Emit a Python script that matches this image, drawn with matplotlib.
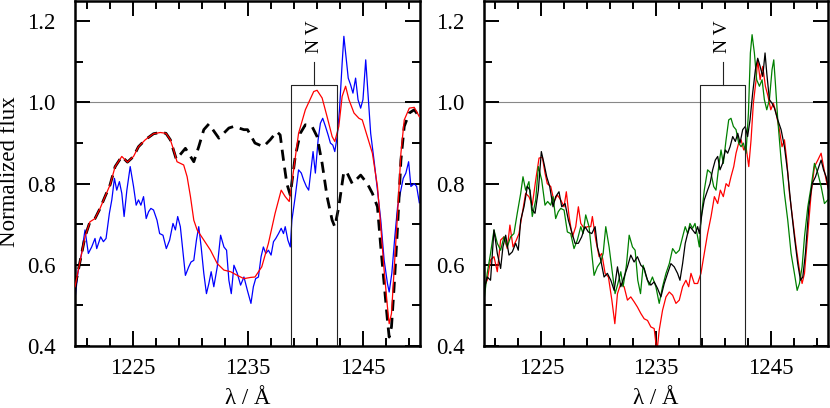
import matplotlib
matplotlib.use("Agg")
import matplotlib.pyplot as plt
from matplotlib.ticker import FixedLocator

plt.rcParams['font.family'] = 'Liberation Serif'
plt.rcParams['font.serif'] = ['Liberation Serif']
plt.rcParams['mathtext.fontset'] = 'stix'

# ---------------- Left panel data ----------------
model_wl = [1220.00, 1220.43, 1220.87, 1221.30, 1221.74, 1222.18, 1222.61, 1223.05, 1223.49, 1224.07,
            1224.56, 1225.09, 1225.52, 1226.11, 1226.83, 1227.42, 1227.91, 1228.29, 1228.58, 1228.87,
            1229.45, 1229.75, 1230.04, 1230.33, 1230.62, 1231.20, 1231.78, 1232.37, 1232.95, 1233.53,
            1234.11, 1234.69, 1235.28, 1235.65, 1236.24, 1236.82, 1237.40, 1237.93, 1238.28, 1238.63,
            1239.01, 1239.44, 1240.03, 1240.76, 1241.05, 1241.49, 1241.92, 1242.36, 1242.59, 1242.94,
            1243.23, 1243.53, 1243.82, 1244.26, 1244.69, 1244.98, 1245.42, 1245.86, 1246.30, 1246.59,
            1246.88, 1247.17, 1247.32, 1247.52, 1247.75, 1248.05, 1248.34, 1248.63, 1249.07, 1249.50,
            1249.94]
model_flux = [0.546, 0.607, 0.669, 0.706, 0.714, 0.739, 0.768, 0.797, 0.842, 0.867,
              0.853, 0.867, 0.891, 0.908, 0.923, 0.926, 0.924, 0.908, 0.883, 0.854,
              0.846, 0.817, 0.768, 0.710, 0.686, 0.661, 0.636, 0.603, 0.587, 0.583,
              0.574, 0.566, 0.569, 0.570, 0.595, 0.653, 0.727, 0.784, 0.768, 0.756,
              0.834, 0.924, 0.982, 1.027, 1.030, 1.011, 0.965, 0.916, 0.904, 0.941,
              1.015, 1.040, 1.007, 0.974, 0.961, 0.957, 0.916, 0.875, 0.793, 0.694,
              0.587, 0.496, 0.455, 0.480, 0.587, 0.727, 0.875, 0.957, 0.986, 0.988,
              0.965]

nomod_wl = [1220.00, 1220.43, 1220.87, 1221.30, 1221.74, 1222.18, 1222.61, 1223.05, 1223.49, 1224.07,
            1224.56, 1225.09, 1225.52, 1226.11, 1226.83, 1227.42, 1227.91, 1228.29, 1228.81, 1229.60,
            1230.33, 1230.76, 1231.20, 1231.64, 1232.51, 1233.38, 1233.82, 1234.69, 1235.00, 1235.65,
            1236.38, 1236.97, 1237.55, 1237.84, 1238.13, 1238.42, 1238.72, 1239.15, 1239.59, 1240.03,
            1240.61, 1241.05, 1241.49, 1241.92, 1242.36, 1242.59, 1242.94, 1243.38, 1243.67, 1244.11,
            1244.84, 1245.42, 1245.86, 1246.30, 1246.59, 1246.88, 1247.17, 1247.32, 1247.52, 1247.75,
            1248.05, 1248.34, 1248.63, 1249.07, 1249.50, 1249.94]
nomod_flux = [0.546, 0.607, 0.669, 0.706, 0.714, 0.739, 0.768, 0.797, 0.842, 0.867,
              0.853, 0.867, 0.891, 0.908, 0.923, 0.926, 0.924, 0.908, 0.860, 0.887,
              0.854, 0.891, 0.933, 0.947, 0.912, 0.937, 0.941, 0.933, 0.933, 0.900,
              0.891, 0.908, 0.928, 0.920, 0.858, 0.800, 0.772, 0.867, 0.924, 0.945,
              0.941, 0.916, 0.850, 0.768, 0.710, 0.694, 0.743, 0.830, 0.826, 0.800,
              0.821, 0.800, 0.776, 0.743, 0.644, 0.554, 0.463, 0.422, 0.447, 0.546,
              0.694, 0.858, 0.941, 0.974, 0.982, 0.965]

obs_wl = [1219.99, 1220.28, 1220.57, 1220.87, 1221.16, 1221.45, 1221.74, 1221.89, 1222.23, 1222.47,
          1222.70, 1222.99, 1223.20, 1223.43, 1223.63, 1223.86, 1224.07, 1224.27, 1224.51, 1224.80,
          1225.09, 1225.32, 1225.52, 1225.73, 1225.96, 1226.19, 1226.40, 1226.60, 1226.83, 1227.13,
          1227.36, 1227.65, 1227.94, 1228.23, 1228.52, 1228.73, 1228.93, 1229.16, 1229.40, 1229.60,
          1229.89, 1230.09, 1230.33, 1230.56, 1230.76, 1230.97, 1231.20, 1231.43, 1231.64, 1231.84,
          1232.07, 1232.37, 1232.66, 1232.95, 1233.18, 1233.38, 1233.59, 1233.82, 1234.11, 1234.40,
          1234.69, 1234.99, 1235.30, 1235.51, 1235.71, 1235.95, 1236.18, 1236.38, 1236.59, 1236.82,
          1237.05, 1237.26, 1237.46, 1237.70, 1237.93, 1238.13, 1238.28, 1238.51, 1238.72, 1238.86,
          1239.15, 1239.44, 1239.68, 1239.88, 1240.12, 1240.32, 1240.55, 1240.70, 1240.90, 1241.14,
          1241.34, 1241.54, 1241.78, 1242.01, 1242.21, 1242.42, 1242.59, 1242.80, 1243.00, 1243.23,
          1243.38, 1243.53, 1243.76, 1243.96, 1244.17, 1244.40, 1244.61, 1244.84, 1245.04, 1245.28,
          1245.51, 1245.71, 1246.00, 1246.30, 1246.59, 1246.88, 1247.17, 1247.32, 1247.55, 1247.81,
          1248.05, 1248.28, 1248.54, 1248.77, 1249.01, 1249.21, 1249.50, 1249.71, 1249.94]
obs_flux = [0.513, 0.587, 0.628, 0.686, 0.628, 0.644, 0.665, 0.640, 0.669, 0.657,
            0.665, 0.727, 0.760, 0.813, 0.784, 0.805, 0.776, 0.719, 0.784, 0.842,
            0.793, 0.747, 0.760, 0.747, 0.768, 0.714, 0.731, 0.739, 0.735, 0.710,
            0.677, 0.673, 0.640, 0.661, 0.702, 0.686, 0.719, 0.694, 0.628, 0.574,
            0.595, 0.607, 0.611, 0.661, 0.694, 0.644, 0.579, 0.529, 0.554, 0.583,
            0.546, 0.595, 0.673, 0.644, 0.636, 0.562, 0.529, 0.599, 0.579, 0.550,
            0.570, 0.537, 0.505, 0.546, 0.566, 0.570, 0.620, 0.644, 0.628, 0.636,
            0.624, 0.657, 0.665, 0.677, 0.690, 0.677, 0.694, 0.661, 0.644, 0.710,
            0.768, 0.834, 0.826, 0.809, 0.793, 0.784, 0.842, 0.879, 0.826, 0.908,
            0.949, 0.961, 0.941, 0.920, 0.900, 0.895, 0.879, 0.916, 0.982, 1.097,
            1.163, 1.122, 1.060, 1.044, 1.023, 1.060, 1.007, 0.986, 1.007, 1.105,
            1.007, 0.924, 0.858, 0.784, 0.710, 0.612, 0.554, 0.533, 0.579, 0.669,
            0.743, 0.776, 0.813, 0.826, 0.854, 0.793, 0.800, 0.793, 0.753]

# ---------------- Right panel data ----------------
black_wl = [1219.99, 1220.28, 1220.57, 1220.87, 1221.16, 1221.45, 1221.65, 1221.89, 1222.18, 1222.47,
            1222.76, 1222.99, 1223.20, 1223.49, 1223.78, 1224.01, 1224.21, 1224.45, 1224.74, 1225.00,
            1225.23, 1225.47, 1225.73, 1226.02, 1226.25, 1226.54, 1226.78, 1227.07, 1227.36, 1227.65,
            1227.94, 1228.23, 1228.52, 1228.81, 1229.10, 1229.40, 1229.69, 1229.89, 1230.18, 1230.47,
            1230.76, 1231.06, 1231.35, 1231.64, 1231.93, 1232.22, 1232.51, 1232.80, 1233.09, 1233.38,
            1233.68, 1233.97, 1234.26, 1234.55, 1234.84, 1235.13, 1235.43, 1235.72, 1236.01, 1236.30,
            1236.59, 1236.88, 1237.09, 1237.32, 1237.55, 1237.76, 1237.96, 1238.19, 1238.43, 1238.63,
            1238.78, 1239.01, 1239.21, 1239.50, 1239.71, 1239.94, 1240.17, 1240.38, 1240.58, 1240.81,
            1241.05, 1241.25, 1241.46, 1241.69, 1241.92, 1242.13, 1242.33, 1242.56, 1242.79, 1242.99,
            1243.20, 1243.43, 1243.67, 1243.87, 1244.08, 1244.31, 1244.51, 1244.66, 1244.89, 1245.12,
            1245.33, 1245.62, 1245.91, 1246.20, 1246.49, 1246.78, 1247.07, 1247.36, 1247.60, 1247.80,
            1248.03, 1248.33, 1248.62, 1248.91, 1249.20, 1249.40, 1249.61, 1249.84, 1250.07]
black_flux = [0.537, 0.570, 0.562, 0.686, 0.628, 0.591, 0.644, 0.673, 0.624, 0.632,
              0.653, 0.636, 0.710, 0.743, 0.793, 0.784, 0.735, 0.727, 0.784, 0.879,
              0.850, 0.817, 0.793, 0.743, 0.768, 0.780, 0.743, 0.751, 0.710, 0.681,
              0.653, 0.653, 0.669, 0.694, 0.681, 0.677, 0.694, 0.644, 0.612, 0.570,
              0.579, 0.562, 0.537, 0.595, 0.546, 0.570, 0.595, 0.624, 0.607, 0.620,
              0.599, 0.591, 0.562, 0.550, 0.558, 0.542, 0.521, 0.554, 0.579, 0.603,
              0.595, 0.579, 0.562, 0.603, 0.653, 0.677, 0.694, 0.686, 0.677, 0.694,
              0.677, 0.727, 0.760, 0.784, 0.800, 0.834, 0.858, 0.867, 0.834, 0.850,
              0.883, 0.875, 0.891, 0.916, 0.904, 0.924, 0.900, 0.933, 0.941, 0.916,
              0.957, 1.023, 1.081, 1.109, 1.089, 1.064, 1.122, 1.072, 1.007, 0.998,
              0.986, 0.957, 0.933, 0.891, 0.826, 0.743, 0.669, 0.603, 0.562, 0.570,
              0.628, 0.743, 0.800, 0.817, 0.842, 0.858, 0.834, 0.817, 0.784]

red_wl = [1219.99, 1220.28, 1220.57, 1220.87, 1221.16, 1221.45, 1221.74, 1222.03, 1222.26, 1222.53,
          1222.82, 1223.05, 1223.34, 1223.63, 1223.92, 1224.21, 1224.51, 1224.80, 1225.09, 1225.32,
          1225.52, 1225.82, 1226.11, 1226.40, 1226.69, 1226.98, 1227.18, 1227.42, 1227.71, 1228.00,
          1228.23, 1228.44, 1228.73, 1229.02, 1229.31, 1229.45, 1229.75, 1230.04, 1230.27, 1230.56,
          1230.85, 1231.15, 1231.41, 1231.64, 1231.93, 1232.22, 1232.51, 1232.80, 1233.09, 1233.38,
          1233.68, 1233.97, 1234.26, 1234.55, 1234.84, 1235.08, 1235.28, 1235.57, 1235.87, 1236.16,
          1236.45, 1236.74, 1237.03, 1237.32, 1237.61, 1237.85, 1238.05, 1238.34, 1238.63, 1238.92,
          1239.21, 1239.50, 1239.80, 1240.09, 1240.38, 1240.61, 1240.87, 1241.11, 1241.34, 1241.54,
          1241.78, 1241.98, 1242.21, 1242.42, 1242.65, 1242.85, 1243.09, 1243.29, 1243.49, 1243.73,
          1243.87, 1244.08, 1244.31, 1244.54, 1244.77, 1245.01, 1245.24, 1245.47, 1245.76, 1245.99,
          1246.20, 1246.40, 1246.64, 1246.93, 1247.22, 1247.51, 1247.74, 1247.95, 1248.24, 1248.53,
          1248.82, 1249.11, 1249.40, 1249.61, 1249.84, 1250.13]
red_flux = [0.546, 0.562, 0.612, 0.620, 0.583, 0.661, 0.669, 0.640, 0.698, 0.644,
            0.661, 0.677, 0.727, 0.776, 0.768, 0.747, 0.809, 0.863, 0.865, 0.826,
            0.800, 0.793, 0.756, 0.772, 0.760, 0.743, 0.780, 0.719, 0.669, 0.694,
            0.743, 0.702, 0.690, 0.694, 0.694, 0.719, 0.661, 0.620, 0.628, 0.579,
            0.570, 0.513, 0.455, 0.529, 0.554, 0.546, 0.513, 0.521, 0.509, 0.496,
            0.480, 0.467, 0.463, 0.447, 0.443, 0.385, 0.439, 0.488, 0.521, 0.533,
            0.525, 0.505, 0.513, 0.546, 0.562, 0.546, 0.579, 0.554, 0.554, 0.579,
            0.628, 0.677, 0.719, 0.768, 0.751, 0.784, 0.768, 0.800, 0.793, 0.817,
            0.842, 0.875, 0.900, 0.908, 0.883, 0.891, 0.842, 0.908, 0.998, 1.056,
            1.105, 1.056, 1.089, 1.040, 1.015, 0.982, 0.998, 0.974, 0.933, 0.891,
            0.908, 0.858, 0.776, 0.710, 0.644, 0.587, 0.554, 0.579, 0.677, 0.776,
            0.842, 0.858, 0.875, 0.842, 0.809, 0.776]

green_wl = [1219.99, 1220.28, 1220.57, 1220.87, 1221.16, 1221.45, 1221.74, 1222.03, 1222.32, 1222.61,
            1222.90, 1223.20, 1223.40, 1223.63, 1223.92, 1224.21, 1224.51, 1224.74, 1225.03, 1225.32,
            1225.55, 1225.82, 1226.02, 1226.25, 1226.48, 1226.69, 1226.98, 1227.27, 1227.56, 1227.85,
            1228.14, 1228.44, 1228.64, 1228.87, 1229.16, 1229.40, 1229.60, 1229.89, 1230.18, 1230.39,
            1230.62, 1230.91, 1231.20, 1231.43, 1231.64, 1231.93, 1232.13, 1232.42, 1232.66, 1232.95,
            1233.18, 1233.41, 1233.65, 1233.88, 1234.11, 1234.40, 1234.69, 1234.99, 1235.28, 1235.57,
            1235.87, 1236.16, 1236.45, 1236.74, 1237.03, 1237.32, 1237.55, 1237.76, 1237.96, 1238.19,
            1238.40, 1238.63, 1238.78, 1238.92, 1239.21, 1239.50, 1239.80, 1240.03, 1240.23, 1240.47,
            1240.67, 1240.87, 1241.11, 1241.34, 1241.54, 1241.75, 1241.98, 1242.21, 1242.42, 1242.62,
            1242.85, 1243.06, 1243.23, 1243.38, 1243.58, 1243.78, 1244.02, 1244.25, 1244.45, 1244.66,
            1244.89, 1245.12, 1245.27, 1245.41, 1245.62, 1245.91, 1246.20, 1246.49, 1246.78, 1247.07,
            1247.31, 1247.51, 1247.74, 1247.95, 1248.24, 1248.53, 1248.82, 1249.11, 1249.40, 1249.69,
            1249.99]
green_flux = [0.509, 0.579, 0.628, 0.686, 0.653, 0.636, 0.669, 0.644, 0.669, 0.677,
              0.727, 0.776, 0.817, 0.784, 0.805, 0.719, 0.760, 0.842, 0.809, 0.747,
              0.756, 0.747, 0.768, 0.714, 0.731, 0.739, 0.735, 0.681, 0.677, 0.640,
              0.661, 0.694, 0.677, 0.723, 0.694, 0.628, 0.574, 0.595, 0.607, 0.628,
              0.694, 0.644, 0.579, 0.529, 0.550, 0.583, 0.546, 0.599, 0.673, 0.644,
              0.636, 0.562, 0.529, 0.599, 0.574, 0.550, 0.570, 0.546, 0.505, 0.546,
              0.579, 0.603, 0.640, 0.628, 0.636, 0.669, 0.694, 0.677, 0.702, 0.690,
              0.702, 0.669, 0.644, 0.710, 0.784, 0.834, 0.826, 0.793, 0.784, 0.842,
              0.883, 0.850, 0.908, 0.957, 0.961, 0.941, 0.933, 0.900, 0.891, 0.900,
              0.875, 0.974, 1.122, 1.167, 1.122, 1.056, 1.040, 1.056, 1.007, 0.982,
              1.007, 1.081, 1.105, 1.048, 0.957, 0.858, 0.776, 0.710, 0.628, 0.579,
              0.537, 0.554, 0.595, 0.669, 0.743, 0.793, 0.850, 0.826, 0.793, 0.751,
              0.760]

# NV doublet marker
nv_lines = [1238.8, 1242.8]
nv_box_top = 1.044
nv_stem_top = 1.100
nv_label = "N V"

xmajor = [1225, 1235, 1245]
xminor = [1221, 1223, 1227, 1229, 1231, 1233, 1237, 1239, 1241, 1243, 1247, 1249]
ymajor = [0.4, 0.6, 0.8, 1.0, 1.2]
yminor = [0.5, 0.7, 0.9, 1.1]

FS = 16.5
FAM = 'Liberation Serif'

fig = plt.figure(figsize=(8.30, 4.08), dpi=100)
W, H = 830.0, 408.0
axL = fig.add_axes([75 / W, 62 / H, 345 / W, 345 / H])
axR = fig.add_axes([484 / W, 62 / H, 344 / W, 345 / H])


def style(ax):
    ax.set_xlim(1220, 1250)
    ax.set_ylim(0.4, 1.25)
    ax.xaxis.set_major_locator(FixedLocator(xmajor))
    ax.xaxis.set_minor_locator(FixedLocator(xminor))
    ax.yaxis.set_major_locator(FixedLocator(ymajor))
    ax.yaxis.set_minor_locator(FixedLocator(yminor))
    ax.set_yticklabels([f"{v:.1f}" for v in ymajor], family=FAM)
    ax.set_xticklabels([str(v) for v in xmajor], family=FAM)
    ax.tick_params(which='both', direction='in', top=True, right=True, width=1.4, colors='black')
    ax.tick_params(which='major', length=11)
    ax.tick_params(which='minor', length=5.5)
    ax.tick_params(axis='y', which='major', pad=14, labelsize=FS)
    ax.tick_params(axis='x', which='major', pad=9, labelsize=FS)
    for s in ax.spines.values():
        s.set_linewidth(1.8)
    ax.axhline(1.0, color='#888888', lw=0.8, zorder=1)
    ax.set_xlabel("λ / Å", fontsize=FS, family=FAM, labelpad=6)
    # NV marker
    c = (nv_lines[0] + nv_lines[1]) / 2
    ax.plot([nv_lines[0], nv_lines[0], nv_lines[1], nv_lines[1]],
            [0.4, nv_box_top, nv_box_top, 0.4], color='#222222', lw=0.8, zorder=4)
    ax.plot([c, c], [nv_box_top, nv_stem_top], color='#222222', lw=0.8, zorder=4)
    ax.text(c, nv_stem_top + 0.022, nv_label, rotation=90, ha='center', va='bottom',
            fontsize=14, family=FAM)


style(axL)
style(axR)

axL.plot(obs_wl, obs_flux, color='#0000ff', lw=0.9, zorder=2)
axL.plot(nomod_wl, nomod_flux, color='black', lw=2.0, dashes=(4, 2.5), zorder=3)
axL.plot(model_wl, model_flux, color='#ff0000', lw=0.9, zorder=3)
fig.text(10 / W, 1 - 172 / H, "Normalized flux", rotation=90, ha='center', va='center',
         fontsize=FS, family=FAM)

axR.plot(red_wl, red_flux, color='#ff0000', lw=0.9, zorder=2)
axR.plot(green_wl, green_flux, color='#008000', lw=0.9, zorder=2)
axR.plot(black_wl, black_flux, color='black', lw=0.9, zorder=3)

fig.savefig("out.png", dpi=100)
